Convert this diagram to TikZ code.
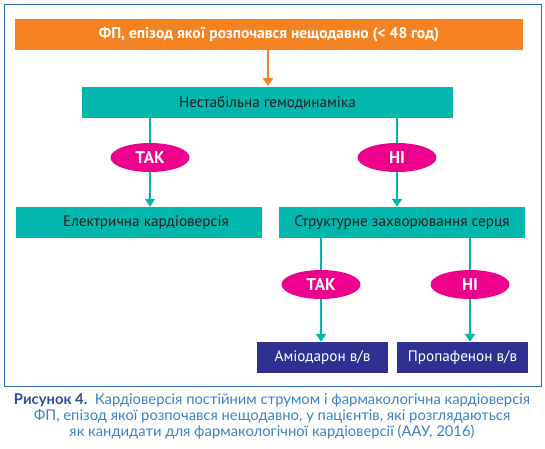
\documentclass[tikz,border=0pt]{standalone}
\usepackage{fontspec}
\setmainfont{PT Sans}
\newfontfamily\capfont{Lato}
\usetikzlibrary{arrows.meta,shapes.geometric}
\definecolor{orng}{HTML}{F58220}
\definecolor{tealc}{HTML}{00B6AD}
\definecolor{magc}{HTML}{EC008C}
\definecolor{navyc}{HTML}{2E3192}
\definecolor{framec}{HTML}{2B6CB5}
\definecolor{capdark}{HTML}{2A4F9E}
\definecolor{caplight}{HTML}{3A82C4}
\definecolor{txtc}{HTML}{231F20}
\tikzset{
  box/.style={draw=none, minimum height=31pt, inner sep=0pt, font=\fontsize{15.2}{17}\selectfont},
  orangebox/.style={box, fill=orng, text=white, font=\fontsize{15.5}{17}\selectfont\bfseries},
  tealbox/.style={box, fill=tealc, text=txtc},
  navybox/.style={box, fill=navyc, text=white},
  answer/.style={ellipse, fill=magc, text=white, minimum width=79pt, minimum height=29pt, inner sep=0pt, font=\fontsize{17}{19}\selectfont\bfseries},
  tealline/.style={draw=tealc, line width=2pt},
  tealarrow/.style={tealline, -{Triangle[width=10pt,length=8pt]}},
  orangearrow/.style={draw=orng, line width=2pt, -{Triangle[width=10pt,length=8pt]}},
}
\begin{document}
\begin{tikzpicture}[x=1pt,y=-1pt]
\useasboundingbox (0,0) rectangle (545,448);
\fill[white] (0,0) rectangle (545,448);
\draw[framec, line width=0.9pt] (4,4) rectangle (541,386);
% boxes
\node[orangebox, minimum width=508pt] (top) at (269,34.5) {ФП, епізод якої розпочався нещодавно (< 48 год)};
\node[tealbox, minimum width=371pt] (gemo) at (267.5,102.5) {Нестабільна гемодинаміка};
\node[answer] (yes1) at (150,157.5) {ТАК};
\node[answer] (no1) at (397,157.5) {НІ};
\node[tealbox, minimum width=246pt] (elec) at (139,222.5) {\hspace*{14pt}Електрична кардіоверсія};
\node[tealbox, minimum width=246pt] (struct) at (402,222.5) {Структурне захворювання серця};
\node[answer] (yes2) at (321,284.5) {ТАК};
\node[answer] (no2) at (470,284.5) {НІ};
\node[navybox, minimum width=131pt] (amio) at (322.5,357.5) {Аміодарон в/в};
\node[navybox, minimum width=131pt] (prop) at (462.5,357.5) {Пропафенон в/в};
% connectors
\coordinate (arrend) at (268,86);
\draw[orangearrow] (top.south -| arrend) -- (arrend);
\draw[tealline] (gemo.south -| yes1) -- (yes1.north);
\draw[tealline] (gemo.south -| no1) -- (no1.north);
\draw[tealarrow] (yes1.south) -- (yes1 |- elec.north);
\draw[tealarrow] (no1.south) -- (no1 |- struct.north);
\draw[tealline] (struct.south -| yes2) -- (yes2.north);
\draw[tealline] (struct.south -| no2) -- (no2.north);
\draw[tealarrow] (yes2.south) -- (yes2 |- amio.north);
\draw[tealarrow] (no2.south) -- (no2 |- prop.north);
% caption
\node[font=\capfont\fontsize{14.8}{16}\selectfont, text=caplight, align=center, anchor=north, inner sep=0pt] (cap) at (272,393)
  {{\color{capdark}\bfseries Рисунок 4.}\ \ Кардіоверсія постійним струмом і фармакологічна кардіоверсія\\
   ФП, епізод якої розпочався нещодавно, у пацієнтів, які розглядаються\\
   як кандидати для фармакологічної кардіоверсії (ААУ, 2016)};
\end{tikzpicture}
\end{document}
